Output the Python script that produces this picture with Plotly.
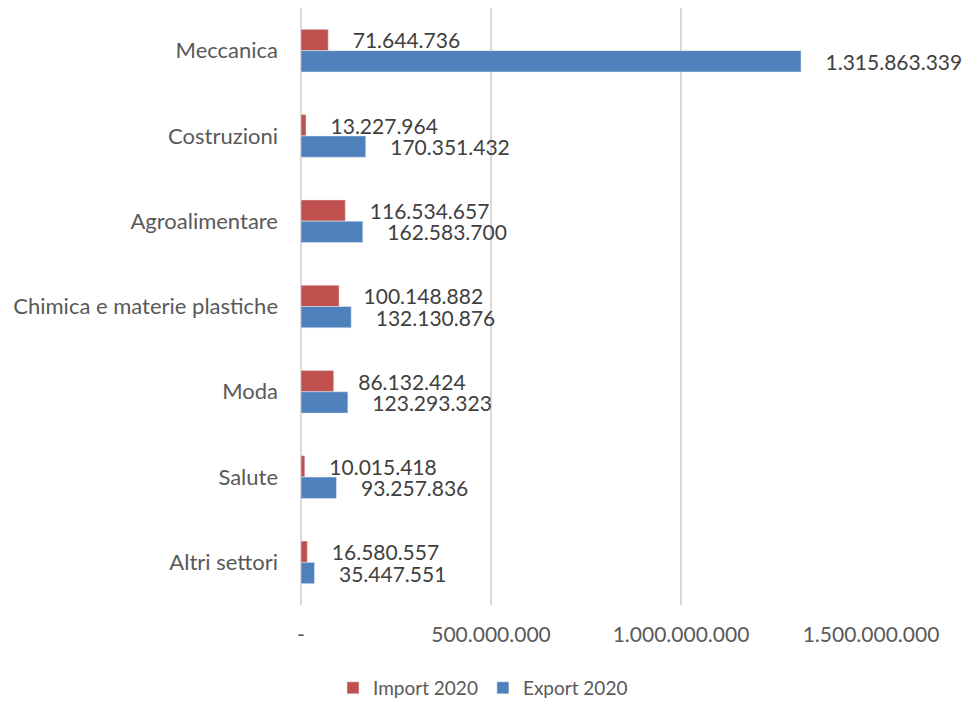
import plotly.graph_objects as go

categories = ["Meccanica", "Costruzioni", "Agroalimentare", "Chimica e materie plastiche",
              "Moda", "Salute", "Altri settori"]
import_2020 = [71644736, 13227964, 116534657, 100148882, 86132424, 10015418, 16580557]
export_2020 = [1315863339, 170351432, 162583700, 132130876, 123293323, 93257836, 35447551]
tick_vals = [0, 500000000, 1000000000, 1500000000]
tick_text = ["-", "500.000.000", "1.000.000.000", "1.500.000.000"]

FONT = "Lato"
pad = "\u00a0" * 4

fig = go.Figure()
fig.add_trace(go.Bar(
    y=categories, x=import_2020, orientation="h", name="Import 2020",
    marker=dict(color="#C0504D"),
    texttemplate=pad + "%{x:,}", textposition="outside", cliponaxis=False,
    constraintext="none",
    textfont=dict(family=FONT, size=21, color="#404040"),
))
fig.add_trace(go.Bar(
    y=categories, x=export_2020, orientation="h", name="Export 2020",
    marker=dict(color="#4F81BD"),
    texttemplate=pad + "%{x:,}", textposition="outside", cliponaxis=False,
    constraintext="none",
    textfont=dict(family=FONT, size=21, color="#404040"),
))

fig.update_layout(
    width=966, height=702,
    margin=dict(l=301, r=95, t=8, b=97, autoexpand=False),
    paper_bgcolor="white", plot_bgcolor="white",
    barmode="group", bargap=0.5, bargroupgap=0,
    separators=",.",
    font=dict(family=FONT, size=20, color="#595959"),
    legend=dict(orientation="h", x=0.5, xref="container", xanchor="center",
                y=0.02, yref="container", yanchor="middle",
                font=dict(size=19, color="#595959"),
                traceorder="normal", itemwidth=30),
    xaxis=dict(range=[0, 1500000000], tickvals=tick_vals, ticktext=tick_text,
               showgrid=True, gridcolor="#D9D9D9", gridwidth=1.5,
               zeroline=True, zerolinecolor="#D9D9D9", zerolinewidth=1.5,
               showline=False, ticks="", ticklabelstandoff=15,
               automargin=False, tickfont=dict(size=21, color="#595959")),
    yaxis=dict(autorange="reversed", showgrid=False, zeroline=False,
               showline=False, ticks="", ticklabelstandoff=22, automargin=False,
               tickfont=dict(size=22, color="#595959")),
)
fig.write_html(
    "out.html",
    config={"displayModeBar": False},
    post_script="document.body.style.margin='0';document.body.style.overflow='hidden';",
)
